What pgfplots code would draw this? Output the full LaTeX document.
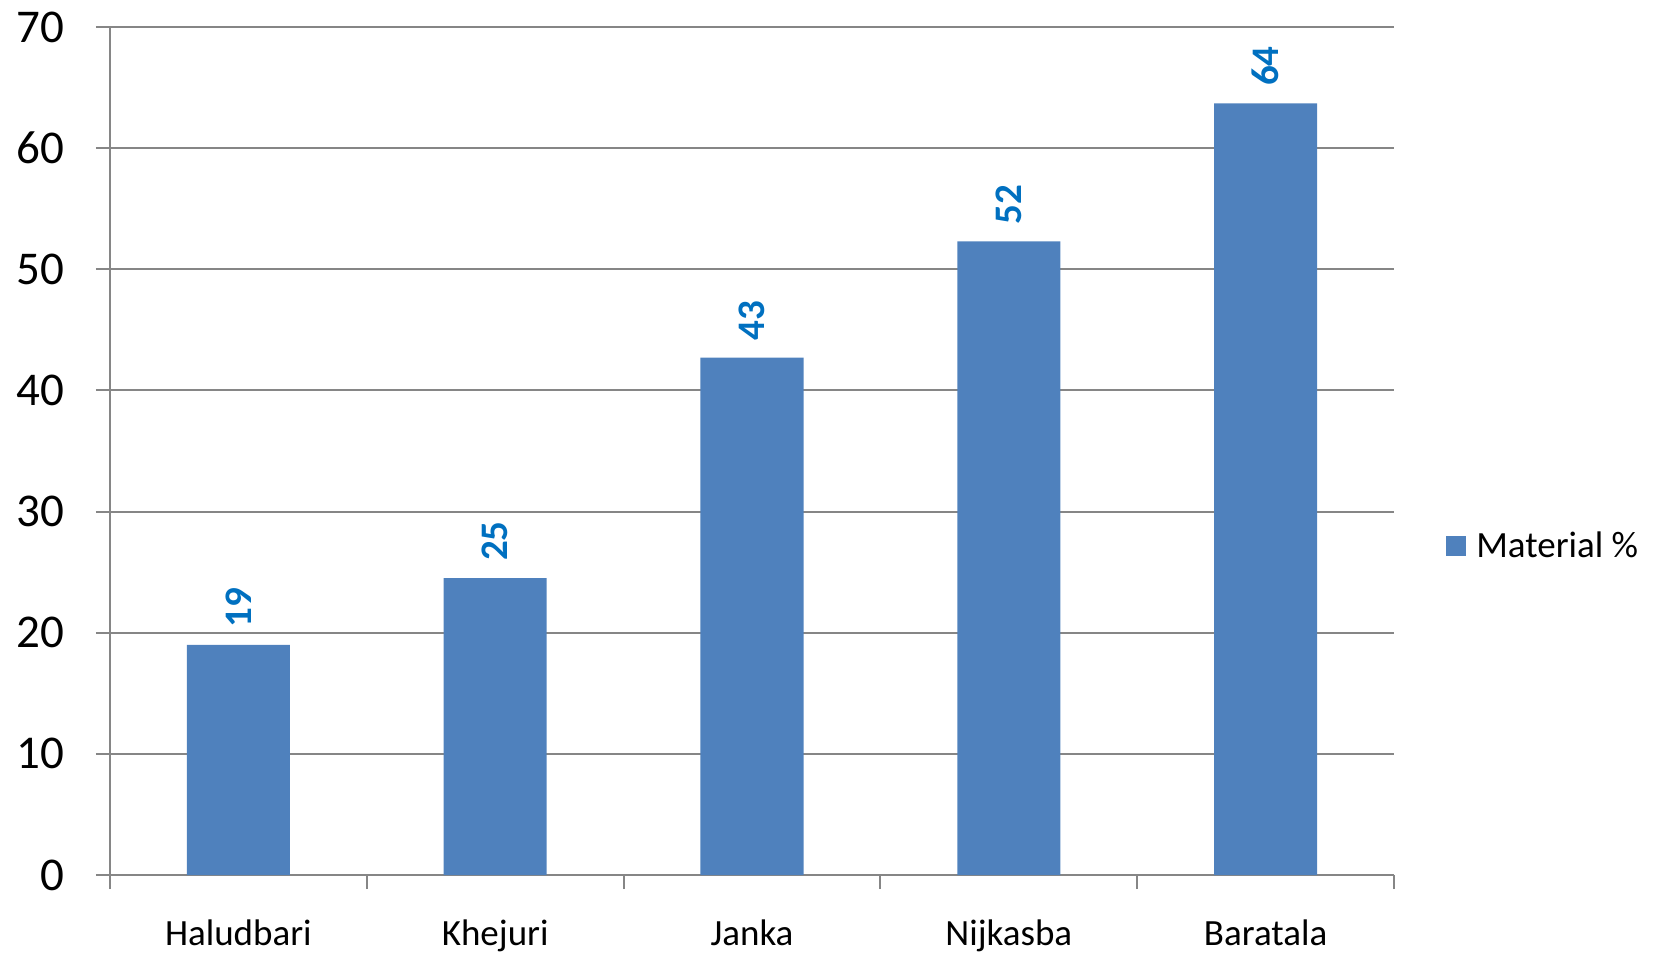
\documentclass[border=0pt]{standalone}
\usepackage{fontspec}
\setmainfont{Carlito}
\usepackage{pgfplots}
\pgfplotsset{compat=1.18}
\definecolor{barblue}{RGB}{79,129,189}
\definecolor{lblblue}{RGB}{0,112,192}
\definecolor{gridgray}{RGB}{134,134,134}
\begin{document}
\begin{tikzpicture}
\useasboundingbox (-55bp,-40.5bp) rectangle (772.5bp,437.5bp);
\begin{axis}[
  scale only axis, width=642bp, height=424bp,
  ymin=0, ymax=70, ytick={0,10,...,70},
  xmin=-0.5, xmax=4.5,
  axis x line*=bottom, axis y line*=left,
  axis line style={gridgray, line width=1bp, -},
  ymajorgrids, grid style={gridgray, line width=1bp},
  tick align=outside, major tick length=7bp,
  tick style={gridgray, line width=1bp},
  xtick={-0.5,0.5,1.5,2.5,3.5,4.5},
  x tick label as interval,
  xticklabels={Haludbari,Khejuri,Janka,Nijkasba,Baratala},
  /pgf/number format/assume math mode=true,
  yticklabel style={font=\fontsize{23.5bp}{28bp}\selectfont, anchor=east, inner sep=0pt, xshift=-15.5bp},
  xticklabel style={font=\fontsize{18.5bp}{22bp}\selectfont, anchor=base, inner sep=0pt, yshift=-28bp},
  legend style={at={(1.040,0.388)}, anchor=west, draw=none, fill=none, inner sep=0pt,
    font=\fontsize{18.5bp}{22bp}\selectfont, legend cell align=left,
    /tikz/every odd column/.append style={column sep=3bp}},
  nodes near coords,
  point meta=explicit symbolic,
  every node near coord/.append style={rotate=90, anchor=west, inner sep=0pt, xshift=8.5bp,
    font=\bfseries\fontsize{19.5bp}{23bp}\selectfont, text=lblblue},
]
\addplot[ybar, bar width=51.5bp, fill=barblue, draw=none, bar shift=0pt,
  legend image code/.code={\fill[barblue] (0bp,-5.15bp) rectangle (10.3bp,5.15bp);}]
  coordinates {(0,19.0) [19] (1,24.5) [25] (2,42.7) [43] (3,52.3) [52] (4,63.7) [64]};
\addlegendentry{Material \%}
\end{axis}
\end{tikzpicture}
\end{document}
